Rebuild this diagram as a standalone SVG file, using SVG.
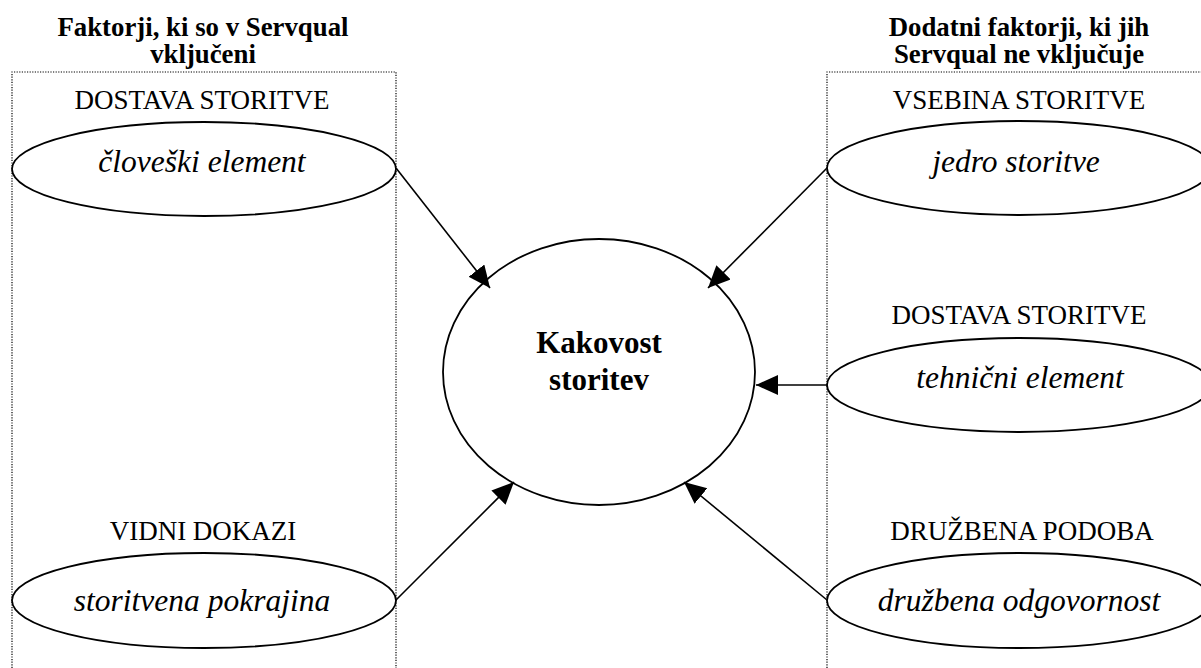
<svg xmlns="http://www.w3.org/2000/svg" width="1201" height="668" viewBox="0 0 1201 668">
<style>
.title{font-family:"Liberation Serif","Times New Roman",serif;font-weight:bold;font-size:26.8px;text-anchor:middle;fill:#000}
.lab{font-family:"Liberation Serif","Times New Roman",serif;font-size:27px;text-anchor:middle;fill:#000}
.it{font-family:"Liberation Serif","Times New Roman",serif;font-style:italic;font-size:31.5px;text-anchor:middle;fill:#000}
.ctr{font-family:"Liberation Serif","Times New Roman",serif;font-weight:bold;font-size:31px;text-anchor:middle;fill:#000}
.ell{fill:#fff;stroke:#000;stroke-width:1.8}
.box{fill:none;stroke:#000;stroke-width:1.2;stroke-dasharray:1.2 1.4}
.con{stroke:#000;stroke-width:1.6;fill:none}
</style>
<defs>
<marker id="ah" markerUnits="userSpaceOnUse" markerWidth="23" markerHeight="21" refX="22" refY="10" orient="auto">
<path d="M0,0 L22,10 L0,20 z" fill="#000"/>
</marker>
</defs>
<rect width="1201" height="668" fill="#fff"/>
<g id="left-group">
<text class="title" x="203" y="36">Faktorji, ki so v Servqual</text>
<text class="title" x="203" y="63">vključeni</text>
<path class="box" d="M12,668 L12,72 L396,72 L396,668"/>
</g>
<g id="right-group">
<text class="title" x="1019" y="36">Dodatni faktorji, ki jih</text>
<text class="title" x="1019" y="63">Servqual ne vključuje</text>
<path class="box" d="M827,668 L827,72 L1201,72"/>
</g>
<g id="n-clovek">
<text class="lab" x="202" y="109">DOSTAVA STORITVE</text>
<ellipse class="ell" cx="204" cy="169" rx="192" ry="47"/>
<text class="it" x="202" y="172">človeški element</text>
</g>
<g id="n-pokrajina">
<text class="lab" x="203" y="540">VIDNI DOKAZI</text>
<ellipse class="ell" cx="204" cy="600.5" rx="192" ry="47.5"/>
<text class="it" x="202" y="611">storitvena pokrajina</text>
</g>
<g id="n-jedro">
<text class="lab" x="1019" y="109">VSEBINA STORITVE</text>
<ellipse class="ell" cx="1019" cy="168" rx="192" ry="47"/>
<text class="it" x="1016" y="172">jedro storitve</text>
</g>
<g id="n-tehnicni">
<text class="lab" x="1019" y="324">DOSTAVA STORITVE</text>
<ellipse class="ell" cx="1019" cy="385" rx="192" ry="47"/>
<text class="it" x="1020" y="388">tehnični element</text>
</g>
<g id="n-druzbena">
<text class="lab" x="1022" y="540">DRUŽBENA PODOBA</text>
<ellipse class="ell" cx="1019" cy="600.5" rx="192" ry="47.5"/>
<text class="it" x="1019" y="611">družbena odgovornost</text>
</g>
<g id="n-kakovost">
<ellipse class="ell" cx="599" cy="372" rx="156" ry="133" stroke-width="1.6"/>
<text class="ctr" x="599" y="353">Kakovost</text>
<text class="ctr" x="599" y="390">storitev</text>
</g>
<g id="connectors">
<line class="con" x1="396" y1="168" x2="490" y2="288" marker-end="url(#ah)"/>
<line class="con" x1="827" y1="168" x2="708" y2="288" marker-end="url(#ah)"/>
<line class="con" x1="827" y1="385" x2="756" y2="385" marker-end="url(#ah)"/>
<line class="con" x1="396" y1="600" x2="514" y2="482" marker-end="url(#ah)"/>
<line class="con" x1="827" y1="600" x2="684" y2="482" marker-end="url(#ah)"/>
</g>
</svg>
